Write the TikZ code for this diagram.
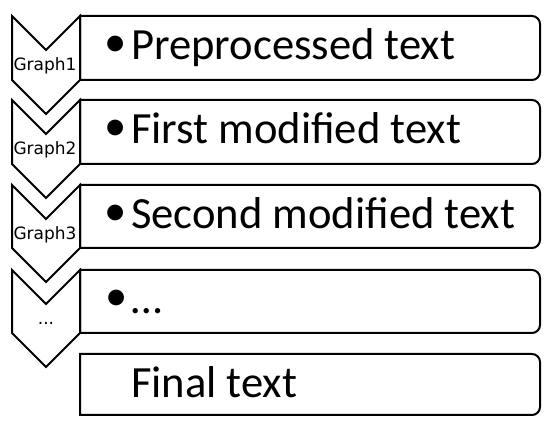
\documentclass[tikz,border=0pt]{standalone}
\usepackage{fontspec}
\setmainfont{Carlito}
\newfontfamily\labfont{DejaVu Sans}
\begin{document}
\begin{tikzpicture}[x=1pt,y=1pt,
  shapeline/.style={draw=black,line width=2pt,fill=white,line join=miter},
  maintext/.style={font=\fontsize{44.6}{50}\selectfont,inner sep=0pt,anchor=base west},
  bulletmark/.style={font=\fontsize{44.6}{50}\selectfont,inner sep=0pt,anchor=center},
  chevlabel/.style={font=\labfont\fontsize{17}{20}\selectfont,inner sep=0pt,anchor=base}]
\useasboundingbox (0,0) rectangle (550,430);
% boxes (square left, rounded right)
\foreach \T/\B in {414/350,330/266,245/182,160/97,76/15}{
  \draw[shapeline] (80,\T) -- (532,\T) arc[start angle=90,end angle=0,radius=8]
    -- (540,\B+8) arc[start angle=0,end angle=-90,radius=8] -- (80,\B) -- cycle;
}
% chevrons
\foreach \T/\B in {414/350,330/266,245/182,160/97}{
  \draw[shapeline] (12,\T) -- (46,\T-34) -- (80,\T) -- (80,\B) -- (46,\B-34) -- (12,\B) -- cycle;
}
% chevron labels
\node[chevlabel] (g1) at (45,359) {Graph1};
\node[chevlabel] (g2) at (45,275) {Graph2};
\node[chevlabel] (g3) at (45,190) {Graph3};
\node[chevlabel] (g4) at (46,105) {...};
% bullets
\node[bulletmark] (b1) at (115.5,384) {•};
\node[bulletmark] (b2) at (115.5,300) {•};
\node[bulletmark] (b3) at (115.5,215) {•};
\node[bulletmark] (b4) at (116.5,130) {•};
% texts
\node[maintext] (t1) at (131,370) {Preprocessed text};
\node[maintext] (t2) at (131,286) {First modified text};
\node[maintext] (t3) at (131,201) {Second modified text};
\node[maintext] (t4) at (131,116) {…};
\node[maintext] (t5) at (131,32) {Final text};
\end{tikzpicture}
\end{document}
